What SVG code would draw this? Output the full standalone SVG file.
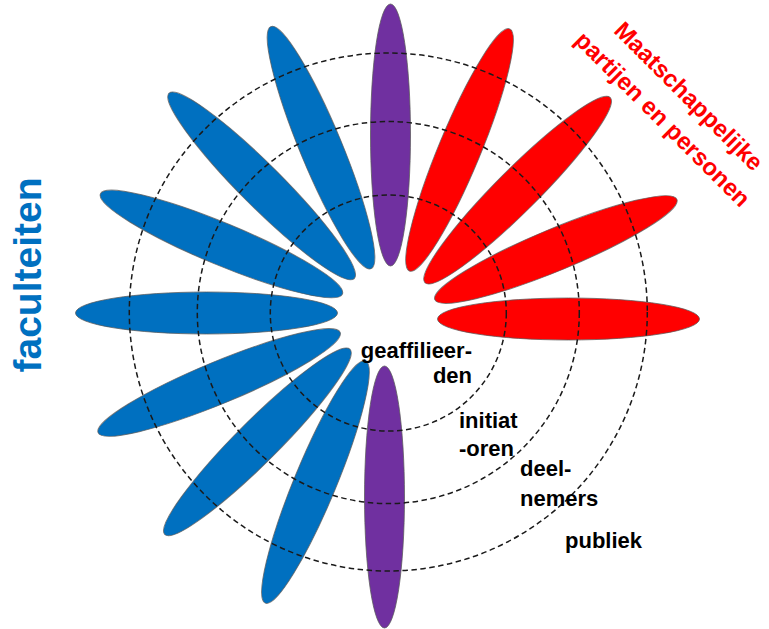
<svg xmlns="http://www.w3.org/2000/svg" width="769" height="629" viewBox="0 0 769 629">
  <style>
    .petal { stroke: #5a5a5a; stroke-opacity: 0.75; stroke-width: 1; }
    .blue { fill: #0070C0; }
    .red { fill: #FF0000; }
    .purple { fill: #7030A0; }
    .ring { fill: none; stroke: #1a1a1a; stroke-width: 1.5; stroke-dasharray: 5.5 3.5; }
    .lbl { font-family: "Liberation Sans", Arial, sans-serif; font-weight: bold; font-size: 22px; fill: #000; }
  </style>
  <rect width="769" height="629" fill="#ffffff"/>
  <g id="petals">
    <g id="petal-red-0"><ellipse class="petal red" cx="568.5" cy="319" rx="131" ry="21" transform="rotate(0 387.5 316)"/></g>
    <g id="petal-red-22"><ellipse class="petal red" cx="568.5" cy="319" rx="131" ry="21" transform="rotate(-22.5 387.5 316)"/></g>
    <g id="petal-red-45"><ellipse class="petal red" cx="568.5" cy="319" rx="131" ry="21" transform="rotate(-45 387.5 316)"/></g>
    <g id="petal-red-67"><ellipse class="petal red" cx="568.5" cy="319" rx="131" ry="21" transform="rotate(-67.5 387.5 316)"/></g>
    <g id="petal-purple-top"><ellipse class="petal purple" cx="568.5" cy="319" rx="131" ry="20" transform="rotate(-90 387.5 316)"/></g>
    <g id="petal-blue-112"><ellipse class="petal blue" cx="568.5" cy="319" rx="131" ry="21" transform="rotate(-112.5 387.5 316)"/></g>
    <g id="petal-blue-135"><ellipse class="petal blue" cx="568.5" cy="319" rx="131" ry="21" transform="rotate(-135 387.5 316)"/></g>
    <g id="petal-blue-157"><ellipse class="petal blue" cx="568.5" cy="319" rx="131" ry="21" transform="rotate(-157.5 387.5 316)"/></g>
    <g id="petal-blue-180"><ellipse class="petal blue" cx="568.5" cy="319" rx="131" ry="21" transform="rotate(-180 387.5 316)"/></g>
    <g id="petal-blue-202"><ellipse class="petal blue" cx="568.5" cy="319" rx="131" ry="21" transform="rotate(-202.5 387.5 316)"/></g>
    <g id="petal-blue-225"><ellipse class="petal blue" cx="568.5" cy="319" rx="131" ry="21" transform="rotate(-225 387.5 316)"/></g>
    <g id="petal-blue-247"><ellipse class="petal blue" cx="568.5" cy="319" rx="131" ry="21" transform="rotate(-247.5 387.5 316)"/></g>
    <g id="petal-purple-bottom"><ellipse class="petal purple" cx="568.5" cy="319" rx="131" ry="20" transform="rotate(-270 387.5 316)"/></g>
  </g>
  <g id="rings">
    <circle class="ring" cx="388.3" cy="312" r="259"/>
    <circle class="ring" cx="388.3" cy="312.5" r="191"/>
    <circle class="ring" cx="388.3" cy="313" r="118"/>
  </g>
  <g id="label-faculteiten">
    <text transform="translate(41 275) rotate(-90)" text-anchor="middle" font-family="Liberation Sans, Arial, sans-serif" font-weight="bold" font-size="39" fill="#0070C0">faculteiten</text>
  </g>
  <g id="label-maatschappelijk" font-family="Liberation Sans, Arial, sans-serif" font-weight="bold" font-size="24" fill="#FF0000" text-anchor="middle">
    <text transform="translate(683 102) rotate(45)">Maatschappelijke</text>
    <text transform="translate(657 125) rotate(45)">partijen en personen</text>
  </g>
  <g id="label-geaffilieerden">
    <text class="lbl" x="472" y="358" text-anchor="end">geaffilieer-</text>
    <text class="lbl" x="472" y="383" text-anchor="end">den</text>
  </g>
  <g id="label-initiatoren">
    <text class="lbl" x="459" y="428">initiat</text>
    <text class="lbl" x="459" y="456">-oren</text>
  </g>
  <g id="label-deelnemers">
    <text class="lbl" x="520" y="476">deel-</text>
    <text class="lbl" x="520" y="506">nemers</text>
  </g>
  <g id="label-publiek">
    <text class="lbl" x="565" y="548">publiek</text>
  </g>
</svg>
